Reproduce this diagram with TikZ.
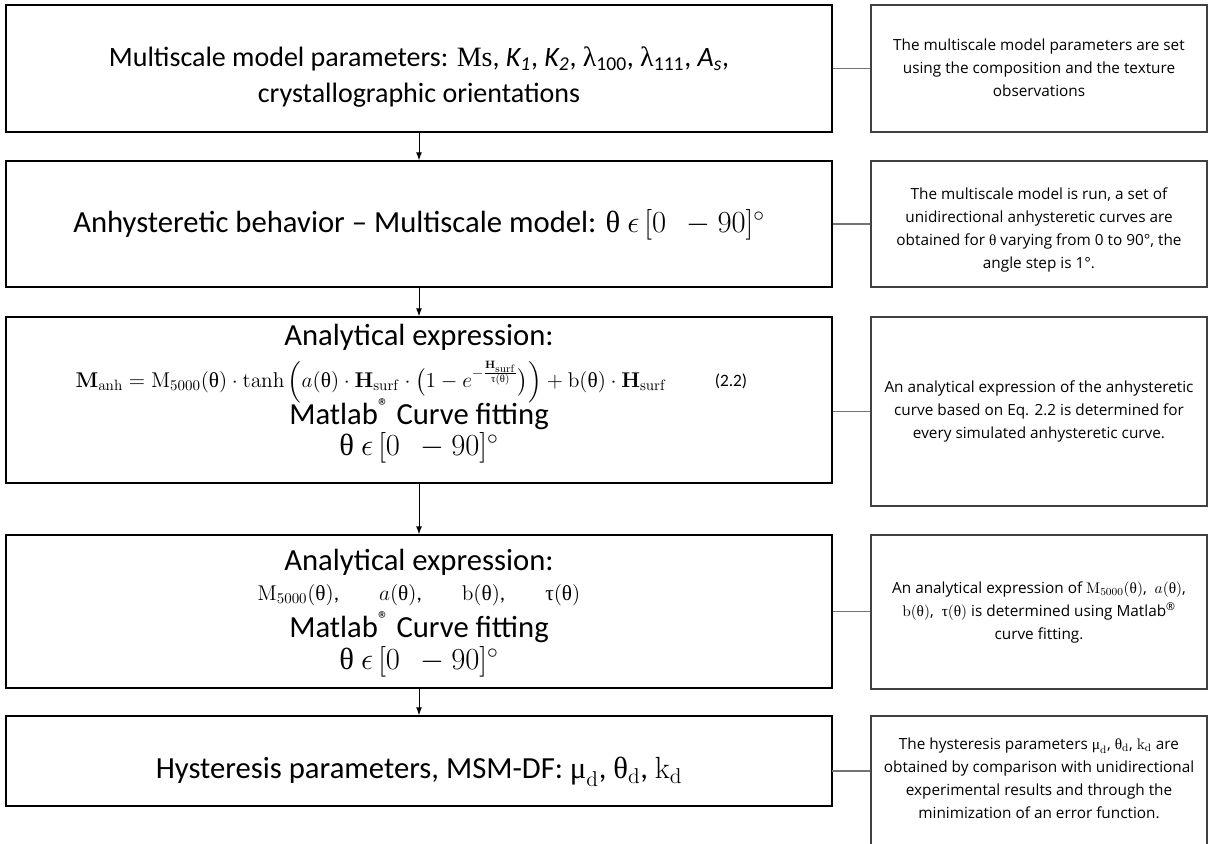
\RequirePackage{fix-cm}
\documentclass[tikz,border=0pt]{standalone}
\usepackage{amsmath}
\usepackage[no-math]{fontspec}
\setmainfont{Carlito}
\newfontfamily\sidefont{Open Sans}
\newfontfamily\cmb{Liberation Serif}
\usetikzlibrary{arrows.meta}

% upright Greek letters used in the formulas
\newcommand{\thu}{\text{\cmb θ}}
\newcommand{\tauu}{\text{\cmb τ}}
\newcommand{\muu}{\text{\cmb μ}}

\tikzset{
  mainbox/.style={draw=black, line width=1.1pt, minimum width=619.5pt, inner sep=0pt},
  sidebox/.style={draw=black!75, line width=1pt, minimum width=252pt, inner sep=0pt},
  maintext/.style={align=center, inner sep=0pt, font=\fontsize{23}{28}\selectfont},
  sidetext/.style={align=center, inner sep=0pt, font=\sidefont\fontsize{11.5}{17.25}\selectfont},
  flow/.style={draw=black, line width=0.75pt, -{Latex[length=6pt,width=4.5pt]}},
  link/.style={draw=black!55, line width=1pt},
}

\begin{document}
\begin{tikzpicture}[x=0.75pt, y=-0.75pt]
\useasboundingbox (0,0) rectangle (1209,843);
\clip (0,0) rectangle (1209,843);

% main chain
\node[mainbox, minimum height=95.25pt]  (B1) at (419,68.5) {};
\node[mainbox, minimum height=94.5pt]   (B2) at (419,224)  {};
\node[mainbox, minimum height=124.5pt]  (B3) at (419,400)  {};
\node[mainbox, minimum height=114.75pt] (B4) at (419,611.5) {};
\node[mainbox, minimum height=67.5pt]   (B5) at (419,761)  {};

% explanations on the right
\node[sidebox, minimum height=95.25pt]  (R1) at (1039,68.5) {};
\node[sidebox, minimum height=94.5pt]   (R2) at (1039,224)  {};
\node[sidebox, minimum height=141.75pt] (R3) at (1039,411.5) {};
\node[sidebox, minimum height=115.5pt]  (R4) at (1039,612)  {};
\node[sidebox, minimum height=115.5pt]  (R5) at (1039,793)  {};

% texts of the main chain
\node[maintext, font=\fontsize{21}{27}\selectfont] (T1) at (419,77) {Multiscale model parameters: {\cmb Ms}, \textit{K\textsubscript{1}}, \textit{K\textsubscript{2}}, {\cmb λ}\textsubscript{100}, {\cmb λ}\textsubscript{111}, \textit{A\textsubscript{s}},\\ crystallographic orientations};
\node[maintext] (T2) at (419,225) {Anhysteretic behavior – Multiscale model: {\cmb θ} $\epsilon\,[0\ \ -90]^{\circ}$};
\node[maintext] (T3a) at (419,337) {Analytical expression:};
\node[inner sep=0pt, font=\fontsize{16}{18}\selectfont] (T3b) at (371,382)
  {$\mathbf{M}_{\mathrm{anh}} = \mathrm{M}_{5000}(\thu)\cdot\tanh\Big(a(\thu)\cdot\mathbf{H}_{\mathrm{surf}}\cdot\big(1-e^{-\frac{\mathbf{H}_{\mathrm{surf}}}{\tauu(\thu)}}\big)\Big)+\mathrm{b}(\thu)\cdot\mathbf{H}_{\mathrm{surf}}$};
\node[inner sep=0pt, font=\fontsize{13}{15}\selectfont] (T3e) at (731,381) {(2.2)};
\node[maintext] (T3c) at (419,414) {Matlab\textsuperscript{®} Curve fitting};
\node[maintext] (T3d) at (419,448) {{\cmb θ} $\epsilon\,[0\ \ -90]^{\circ}$};
\node[maintext] (T4a) at (419,562) {Analytical expression:};
\node[inner sep=0pt, font=\fontsize{16}{18}\selectfont] (T4b) at (419,595)
  {$\mathrm{M}_{5000}(\thu)$,\hspace{30pt}$a(\thu)$,\hspace{30pt}$\mathrm{b}(\thu)$,\hspace{30pt}$\tauu(\thu)$};
\node[maintext] (T4c) at (419,627) {Matlab\textsuperscript{®} Curve fitting};
\node[maintext] (T4d) at (419,662) {{\cmb θ} $\epsilon\,[0\ \ -90]^{\circ}$};
\node[maintext] (T5) at (419,772) {Hysteresis parameters, MSM-DF: $\muu_{\mathrm{d}}$, $\thu_{\mathrm{d}}$, $\mathrm{k}_{\mathrm{d}}$};

% texts of the explanations
\node[sidetext] (S1) at (1039,68) {The multiscale model parameters are set\\ using the composition and the texture\\ observations};
\node[sidetext] (S2) at (1039,230) {The multiscale model is run, a set of\\ unidirectional anhysteretic curves are\\ obtained for {\cmb θ} varying from 0 to 90°, the\\ angle step is 1°.};
\node[sidetext] (S3) at (1039,411) {An analytical expression of the anhysteretic\\ curve based on Eq. 2.2 is determined for\\ every simulated anhysteretic curve.};
\node[sidetext] (S4) at (1039,612) {An analytical expression of $\mathrm{M}_{5000}(\thu)$,\ \ $a(\thu)$,\\ $\mathrm{b}(\thu)$,\ \ $\tauu(\thu)$ is determined using Matlab\textsuperscript{®}\\ curve fitting.};
\node[sidetext] (S5) at (1039,778) {The hysteresis parameters $\muu_{\mathrm{d}}$, $\thu_{\mathrm{d}}$, $\mathrm{k}_{\mathrm{d}}$ are\\ obtained by comparison with unidirectional\\ experimental results and through the\\ minimization of an error function.};

% flow arrows
\draw[flow] (B1.south) -- (B2.north);
\draw[flow] (B2.south) -- (B3.north);
\draw[flow] (B3.south) -- (B4.north);
\draw[flow] (B4.south) -- (B5.north);

% links to the explanations
\draw[link] (B1.east) -- (R1.west);
\draw[link] (B2.east) -- (R2.west);
\draw[link] (B3.east |- R3.west) -- (R3.west);
\draw[link] (B4.east) -- (B4.east -| R4.west);
\coordinate (c5) at (832,771);
\draw[link] (c5) -- (c5 -| R5.west);
\end{tikzpicture}
\end{document}
